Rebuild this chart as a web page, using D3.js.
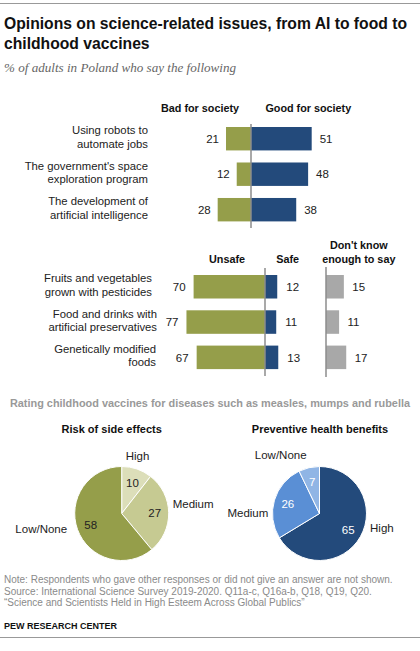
<!DOCTYPE html>
<html><head><meta charset="utf-8">
<script src="https://cdn.jsdelivr.net/npm/d3@7"></script>
<style>
body{margin:0;background:#fff}
text{font-family:'Liberation Sans',Arial,sans-serif}
</style></head>
<body><svg id="chart" width="420" height="651"></svg>
<script>
// ---------- DATA ----------
const techItems = [["Using robots to","automate jobs"],["The government's space","exploration program"],["The development of","artificial intelligence"]];
const techBad = [21, 12, 28];
const techGood = [51, 48, 38];

const foodItems = [["Fruits and vegetables","grown with pesticides"],["Food and drinks with","artificial preservatives"],["Genetically modified","foods"]];
const foodUnsafe = [70, 77, 67];
const foodSafe = [12, 11, 13];
const foodDK = [15, 11, 17];

const riskCats = ["High","Medium","Low/None"];
const riskVals = [10, 27, 58];
const benefitCats = ["High","Medium","Low/None"];
const benefitVals = [65, 26, 7];

// ---------- STYLE / LAYOUT ----------
const C = {green:"#959e4a", blue:"#234a7b", gray:"#a8a8a8", axis:"#8c8c8c", text:"#222"};
const riskColors = ["#dcdeb9","#c6ca92","#959e4a"];
const benefitColors = ["#234a7b","#5a8fd5","#90b5e5"];

const svg = d3.select("#chart");

// rules
svg.append("line").attr("x1",0).attr("x2",420).attr("y1",3.5).attr("y2",3.5).attr("stroke","#999").attr("stroke-width",1);
svg.append("line").attr("x1",0).attr("x2",420).attr("y1",637.5).attr("y2",637.5).attr("stroke","#999").attr("stroke-width",1);

// title
const title = svg.append("text").attr("x",4).style("font-weight","bold").style("font-size","15.7px").attr("fill","#111");
title.append("tspan").attr("x",4).attr("y",29).text("Opinions on science-related issues, from AI to food to");
title.append("tspan").attr("x",4).attr("y",49).text("childhood vaccines");

svg.append("text").attr("x",4).attr("y",72).style("font-family","'Liberation Serif',serif").style("font-style","italic")
  .style("font-size","13.1px").attr("fill","#666").text("% of adults in Poland who say the following");

function rowLabel(g, lines, x, yc){
  const t = g.append("text").attr("text-anchor","end").style("font-size","11.3px").attr("fill",C.text);
  lines.forEach((l,i)=>t.append("tspan").attr("x",x).attr("y",yc-4.5+i*13.5).text(l));
}
function header(g, lines, x, yBase){
  const t = g.append("text").attr("text-anchor","middle").style("font-size","10.8px").style("font-weight","bold").attr("fill","#111");
  lines.forEach((l,i)=>t.append("tspan").attr("x",x).attr("y",yBase+i*14).text(l));
}

// ---------- SECTION 1: Bad / Good ----------
{
  const g = svg.append("g");
  const cx = 251;
  const x = d3.scaleLinear().domain([0,100]).range([0,119]);
  const y = d3.scaleBand().domain(d3.range(techItems.length)).range([127,221.4]).paddingInner(0.34);
  header(g,["Bad for society"],200,111.7);
  header(g,["Good for society"],308.3,111.7);
  techItems.forEach((it,i)=>{
    const yc = y(i)+y.bandwidth()/2;
    rowLabel(g,it,148,yc);
    g.append("rect").attr("x",cx-x(techBad[i])).attr("y",y(i)).attr("width",x(techBad[i])).attr("height",y.bandwidth()).attr("fill",C.green);
    g.append("rect").attr("x",cx).attr("y",y(i)).attr("width",x(techGood[i])).attr("height",y.bandwidth()).attr("fill",C.blue);
    g.append("text").attr("x",cx-x(techBad[i])-7).attr("y",yc+4.2).attr("text-anchor","end").style("font-size","11.5px").attr("fill",C.text).text(techBad[i]);
    g.append("text").attr("x",cx+x(techGood[i])+8).attr("y",yc+4.2).style("font-size","11.5px").attr("fill",C.text).text(techGood[i]);
  });
  g.append("line").attr("x1",cx).attr("x2",cx).attr("y1",124).attr("y2",228).attr("stroke",C.axis).attr("stroke-width",1.5);
}

// ---------- SECTION 2: Unsafe / Safe / DK ----------
{
  const g = svg.append("g");
  const cx = 265, dx0 = 326;
  const x = d3.scaleLinear().domain([0,100]).range([0,102]);
  const xd = d3.scaleLinear().domain([0,100]).range([0,119]);
  const y = d3.scaleBand().domain(d3.range(foodItems.length)).range([275,369.1]).paddingInner(0.334);
  header(g,["Unsafe"],227,263);
  header(g,["Safe"],287.7,263);
  header(g,["Don't know","enough to say"],358.8,248.5);
  foodItems.forEach((it,i)=>{
    const yc = y(i)+y.bandwidth()/2;
    rowLabel(g,it,[152,157,156][i],yc);
    g.append("rect").attr("x",cx-x(foodUnsafe[i])).attr("y",y(i)).attr("width",x(foodUnsafe[i])).attr("height",y.bandwidth()).attr("fill",C.green);
    g.append("rect").attr("x",cx).attr("y",y(i)).attr("width",x(foodSafe[i])).attr("height",y.bandwidth()).attr("fill",C.blue);
    g.append("rect").attr("x",dx0).attr("y",y(i)).attr("width",xd(foodDK[i])).attr("height",y.bandwidth()).attr("fill",C.gray);
    g.append("text").attr("x",cx-x(foodUnsafe[i])-8).attr("y",yc+4.2).attr("text-anchor","end").style("font-size","11.5px").attr("fill",C.text).text(foodUnsafe[i]);
    g.append("text").attr("x",cx+x(foodSafe[i])+9).attr("y",yc+4.2).style("font-size","11.5px").attr("fill",C.text).text(foodSafe[i]);
    g.append("text").attr("x",dx0+xd(foodDK[i])+8.5).attr("y",yc+4.2).style("font-size","11.5px").attr("fill",C.text).text(foodDK[i]);
  });
  g.append("line").attr("x1",cx).attr("x2",cx).attr("y1",268).attr("y2",376).attr("stroke",C.axis).attr("stroke-width",1.5);
  g.append("line").attr("x1",dx0).attr("x2",dx0).attr("y1",267).attr("y2",377).attr("stroke",C.axis).attr("stroke-width",1.5);
}

// ---------- SECTION 3: Pies ----------
svg.append("text").attr("x",210).attr("y",407).attr("text-anchor","middle").style("font-weight","bold").style("font-size","10.9px")
  .attr("fill","#999").text("Rating childhood vaccines for diseases such as measles, mumps and rubella");

function pieChart(cx, cy, r, cats, vals, colors, titleText, titleX, innerFill, outLayout){
  const g = svg.append("g").attr("transform",`translate(${cx},${cy})`);
  svg.append("text").attr("x",titleX).attr("y",433).attr("text-anchor","middle").style("font-weight","bold").style("font-size","11px").attr("fill","#111").text(titleText);
  const pie = d3.pie().sort(null).value(d=>d.v);
  const data = pie(cats.map((c,i)=>({c, v:vals[i], i})));
  const arc = d3.arc().innerRadius(0).outerRadius(r);
  g.selectAll("path").data(data).join("path").attr("d",arc).attr("fill",d=>colors[d.data.i]).attr("stroke","#fff").attr("stroke-width",1);
  const inArc = d3.arc().innerRadius(33).outerRadius(33);
  g.selectAll("text.v").data(data).join("text").attr("class","v")
    .attr("x",d=>inArc.centroid(d)[0]).attr("y",d=>inArc.centroid(d)[1]+4.2).attr("text-anchor","middle")
    .style("font-size","11.5px").attr("fill",d=>innerFill[d.data.i]).text(d=>d.data.v);
  const outArc = d3.arc().innerRadius(58).outerRadius(58);
  g.selectAll("text.c").data(data).join("text").attr("class","c")
    .attr("x",d=>outArc.centroid(d)[0]+outLayout[d.data.i].dx)
    .attr("y",d=>outArc.centroid(d)[1]+4+outLayout[d.data.i].dy)
    .attr("text-anchor",d=>outLayout[d.data.i].anchor)
    .style("font-size","11.5px").attr("fill",C.text).text(d=>d.data.c);
}
pieChart(121.7, 513.5, 47, riskCats, riskVals, riskColors, "Risk of side effects", 111.7, ["#222","#222","#222"],
  [{anchor:"middle",dx:-3,dy:-3},{anchor:"start",dx:-7,dy:-9},{anchor:"end",dx:0,dy:-4}]);
pieChart(319.5, 513.5, 47, benefitCats, benefitVals, benefitColors, "Preventive health benefits", 320, ["#fff","#fff","#fff"],
  [{anchor:"start",dx:0,dy:-14},{anchor:"end",dx:4.4,dy:15.7},{anchor:"end",dx:0,dy:-2}]);

// ---------- FOOTER ----------
const notes = ["Note: Respondents who gave other responses or did not give an answer are not shown.",
  "Source: International Science Survey 2019-2020. Q11a-c, Q16a-b, Q18, Q19, Q20.",
  "\u201cScience and Scientists Held in High Esteem Across Global Publics\u201d"];
notes.forEach((n,i)=>svg.append("text").attr("x",4).attr("y",583+i*11.6).style("font-size","10px").attr("fill","#8a8a8a").text(n));
svg.append("text").attr("x",4).attr("y",628.5).style("font-size","9px").style("font-weight","bold").attr("fill","#111").text("PEW RESEARCH CENTER");
</script></body></html>
